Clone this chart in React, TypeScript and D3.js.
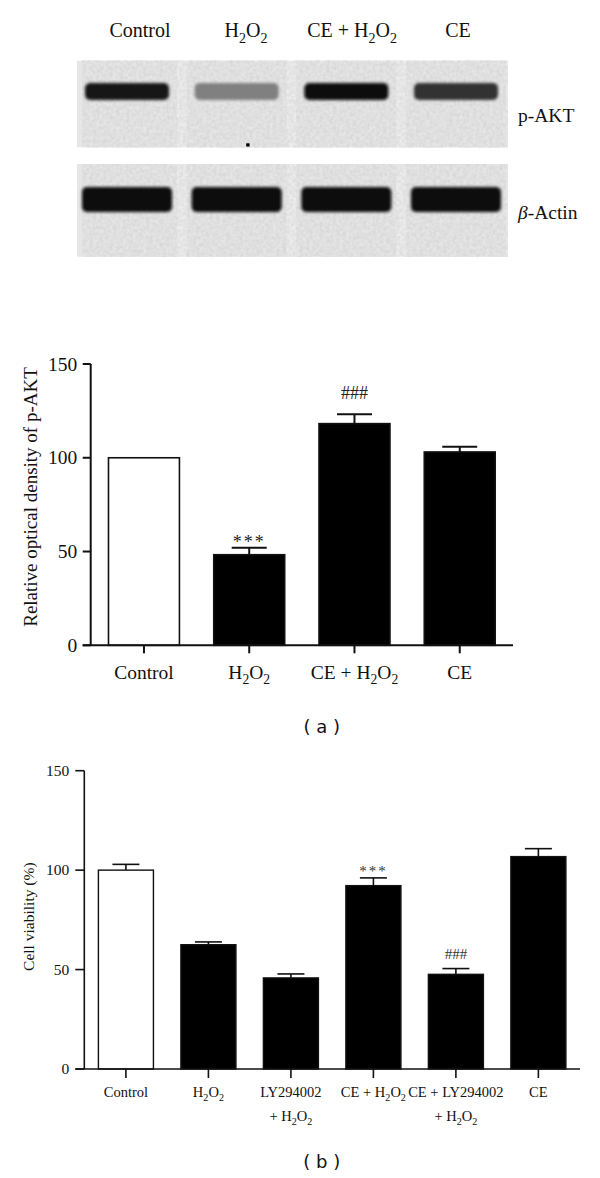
import React from "react";
import * as d3 from "d3";

// ---------- Data ----------
// Western blot lanes
const lanes = ["Control", "H2O2", "CE + H2O2", "CE"];
const pAktBandDarkness = [0.9, 0.5, 0.96, 0.8];
const actinBandDarkness = [0.97, 0.97, 0.95, 0.97];

// Panel (a): relative optical density of p-AKT
const catsA = ["Control", "H2O2", "CE + H2O2", "CE"];
const densityA = [100, 48.3, 118.2, 103.1];
const errA = [0, 3.7, 5.0, 2.8];
const annotA = ["", "***", "###", ""];
const ticksA = [0, 50, 100, 150];

// Panel (b): cell viability
const catsB = ["Control", "H2O2", "LY294002|+ H2O2", "CE + H2O2", "CE + LY294002|+ H2O2", "CE"];
const viabilityB = [100, 62.5, 45.8, 92.2, 47.6, 106.8];
const errB = [2.9, 1.4, 2.0, 3.9, 2.9, 4.0];
const annotB = ["", "", "", "***", "###", ""];
const ticksB = [0, 50, 100, 150];

const SERIF = "'Liberation Serif', 'Times New Roman', serif";
const SANS = "'DejaVu Sans', Verdana, sans-serif";

// render text with H2O2 subscripts
function chem(text: string, size: number, keyBase: string) {
  const parts = text.split(/(H2O2)/);
  const out: any[] = [];
  const sub = size * 0.7;
  const shift = size * 0.28;
  parts.forEach((p, i) => {
    if (p === "H2O2") {
      out.push(<tspan key={keyBase + i + "a"}>H</tspan>);
      out.push(<tspan key={keyBase + i + "b"} fontSize={sub} dy={shift}>2</tspan>);
      out.push(<tspan key={keyBase + i + "c"} dy={-shift}>O</tspan>);
      out.push(<tspan key={keyBase + i + "d"} fontSize={sub} dy={shift}>2</tspan>);
      if (i < parts.length - 1 && parts[i + 1] !== "") {
        out.push(<tspan key={keyBase + i + "e"} dy={-shift}></tspan>);
      }
    } else if (p !== "") {
      out.push(<tspan key={keyBase + i}>{p}</tspan>);
    }
  });
  return out;
}

function Blot() {
  const laneX = d3.scalePoint<string>().domain(lanes).range([127, 456]);
  const labelX = d3.scalePoint<string>().domain(lanes).range([140, 458]);
  const panels = [
    { y0: 60.7, y1: 147.3, bandY: 91.5, bandH: 17, bandW: 84, dark: pAktBandDarkness, label: "p-AKT", labelY: 122 },
    { y0: 164, y1: 256.7, bandY: 199.5, bandH: 25, bandW: 90, dark: actinBandDarkness, label: "Actin", labelY: 218.5 },
  ];
  return (
    <g>
      <defs>
        <filter id="noise" x="0" y="0" width="100%" height="100%">
          <feTurbulence type="fractalNoise" baseFrequency="0.3" numOctaves="2" seed="4" result="t" />
          <feColorMatrix type="matrix" values="0 0 0 0 0.45  0 0 0 0 0.45  0 0 0 0 0.45  0 0 0 0.5 -0.12" />
        </filter>
        <filter id="bandBlur" x="-20%" y="-50%" width="140%" height="200%">
          <feGaussianBlur stdDeviation="1.4" />
        </filter>
      </defs>
      {panels.map((p, pi) => (
        <g key={pi}>
          <rect x={82} y={p.y0} width={426} height={p.y1 - p.y0} fill="#ededed" />
          {lanes.map((l) => (
            <rect key={l} x={laneX(l)! - 50} y={p.y0} width={100} height={p.y1 - p.y0} fill="#e6e6e6" />
          ))}
          <rect x={82} y={p.y0} width={426} height={p.y1 - p.y0} filter="url(#noise)" fill="#fff" />
          {lanes.map((l, i) => {
            const g = Math.round(255 * (1 - p.dark[i]));
            return (
              <rect
                key={l}
                x={laneX(l)! - p.bandW / 2}
                y={p.bandY - p.bandH / 2}
                width={p.bandW}
                height={p.bandH}
                rx={5}
                fill={`rgb(${g},${g},${g})`}
                filter="url(#bandBlur)"
              />
            );
          })}
          <text x={518} y={p.labelY} fontFamily={SERIF} fontSize={19.5} fill="#111">
            {pi === 1 ? <tspan fontStyle="italic">β</tspan> : null}
            {pi === 1 ? "-" + p.label : p.label}
          </text>
        </g>
      ))}
      <rect x={246.2} y={143.3} width={3.4} height={3.2} fill="#000" />
      {lanes.map((l) => (
        <text key={l} x={labelX(l)} y={37} textAnchor="middle" fontFamily={SERIF} fontSize={20} fill="#111">
          {chem(l, 20, "bl" + l)}
        </text>
      ))}
    </g>
  );
}

function ChartA() {
  const yA = d3.scaleLinear().domain([0, 150]).range([645.3, 364]);
  const xA = d3.scaleBand<string>().domain(catsA).range([90.7, 513]).paddingInner(0.326).paddingOuter(0.169);
  const bw = xA.bandwidth();
  const axisX = 90.7;
  return (
    <g>
      {catsA.map((c, i) => {
        const x = xA(c)!;
        const cx = x + bw / 2;
        const v = densityA[i];
        const e = errA[i];
        return (
          <g key={c}>
            {e > 0 && (
              <g stroke="#111" strokeWidth={2}>
                <line x1={cx} x2={cx} y1={yA(v)} y2={yA(v + e)} />
                <line x1={cx - 17.5} x2={cx + 17.5} y1={yA(v + e)} y2={yA(v + e)} />
              </g>
            )}
            <rect x={x} y={yA(v)} width={bw} height={yA(0) - yA(v)} fill={i === 0 ? "#fff" : "#000"} stroke="#111" strokeWidth={1.6} />
            {annotA[i] === "***" && (
              <text x={cx} y={yA(v + e) + 0.5} textAnchor="middle" fontFamily={SERIF} fontSize={18} letterSpacing={2} fill="#222">***</text>
            )}
            {annotA[i] === "###" && (
              <text x={cx} y={yA(v + e) - 15} textAnchor="middle" fontFamily={SERIF} fontSize={18} fill="#222">###</text>
            )}
            <line x1={cx} x2={cx} y1={yA(0)} y2={yA(0) + 8} stroke="#111" strokeWidth={2} />
            <text x={cx} y={679} textAnchor="middle" fontFamily={SERIF} fontSize={19.5} fill="#111">
              {chem(c, 19.5, "xa" + i)}
            </text>
          </g>
        );
      })}
      <line x1={axisX} x2={axisX} y1={yA(150)} y2={yA(0)} stroke="#111" strokeWidth={2} />
      <line x1={82.7} x2={513} y1={yA(0)} y2={yA(0)} stroke="#111" strokeWidth={2} />
      {ticksA.map((t) => (
        <g key={t}>
          <line x1={82.7} x2={axisX} y1={yA(t)} y2={yA(t)} stroke="#111" strokeWidth={2} />
          <text x={77.3} y={yA(t)} dy="0.34em" textAnchor="end" fontFamily={SERIF} fontSize={19.5} fill="#111">{t}</text>
        </g>
      ))}
      <text transform="translate(36.5,497) rotate(-90)" textAnchor="middle" fontFamily={SERIF} fontSize={19} fill="#111">
        Relative optical density of p-AKT
      </text>
      <text x={321.7} y={726.7} dy="0.35em" textAnchor="middle" fontFamily={SANS} fontSize={18} fill="#111">( a )</text>
    </g>
  );
}

function ChartB() {
  const yB = d3.scaleLinear().domain([0, 150]).range([1069, 770.7]);
  const xB = d3.scaleBand<string>().domain(catsB).range([84.3, 580]).paddingInner(0.333).paddingOuter(0.171);
  const bw = xB.bandwidth();
  const axisX = 84.3;
  const fs = 14.5;
  return (
    <g>
      {catsB.map((c, i) => {
        const x = xB(c)!;
        const cx = x + bw / 2;
        const v = viabilityB[i];
        const e = errB[i];
        const lines = c.split("|");
        return (
          <g key={c}>
            <g stroke="#111" strokeWidth={1.6}>
              <line x1={cx} x2={cx} y1={yB(v)} y2={yB(v + e)} />
              <line x1={cx - 13.5} x2={cx + 13.5} y1={yB(v + e)} y2={yB(v + e)} />
            </g>
            <rect x={x} y={yB(v)} width={bw} height={yB(0) - yB(v)} fill={i === 0 ? "#fff" : "#000"} stroke="#111" strokeWidth={1.4} />
            {annotB[i] === "***" && (
              <text x={cx} y={yB(v + e) - 1.5} textAnchor="middle" fontFamily={SERIF} fontSize={15} letterSpacing={2} fill="#333">***</text>
            )}
            {annotB[i] === "###" && (
              <text x={cx} y={yB(v + e) - 10} textAnchor="middle" fontFamily={SERIF} fontSize={15} fill="#333">###</text>
            )}
            <line x1={cx} x2={cx} y1={yB(0)} y2={yB(0) + 9} stroke="#111" strokeWidth={1.6} />
            {lines.map((ln, li) => (
              <text key={li} x={cx} y={1096.7 + li * 24} textAnchor="middle" fontFamily={SERIF} fontSize={fs} fill="#111">
                {chem(ln, fs, "xb" + i + "_" + li)}
              </text>
            ))}
          </g>
        );
      })}
      <line x1={axisX} x2={axisX} y1={yB(150)} y2={yB(0)} stroke="#111" strokeWidth={1.6} />
      <line x1={75.3} x2={580} y1={yB(0)} y2={yB(0)} stroke="#111" strokeWidth={1.6} />
      {ticksB.map((t) => (
        <g key={t}>
          <line x1={75.3} x2={axisX} y1={yB(t)} y2={yB(t)} stroke="#111" strokeWidth={1.6} />
          <text x={69.3} y={yB(t)} dy="0.34em" textAnchor="end" fontFamily={SERIF} fontSize={15.5} fill="#111">{t}</text>
        </g>
      ))}
      <text transform="translate(33.5,916.7) rotate(-90)" textAnchor="middle" fontFamily={SERIF} fontSize={15.5} fill="#111">
        Cell viability (%)
      </text>
      <text x={321.7} y={1161.7} dy="0.35em" textAnchor="middle" fontFamily={SANS} fontSize={18} fill="#111">( b )</text>
    </g>
  );
}

export default function App() {
  return (
    <svg
      width={600}
      height={1178}
      viewBox="0 0 600 1178"
      style={{ position: "absolute", left: 0, top: 0, background: "#fff" }}
    >
      <rect width={600} height={1178} fill="#fff" />
      <Blot />
      <ChartA />
      <ChartB />
    </svg>
  );
}
